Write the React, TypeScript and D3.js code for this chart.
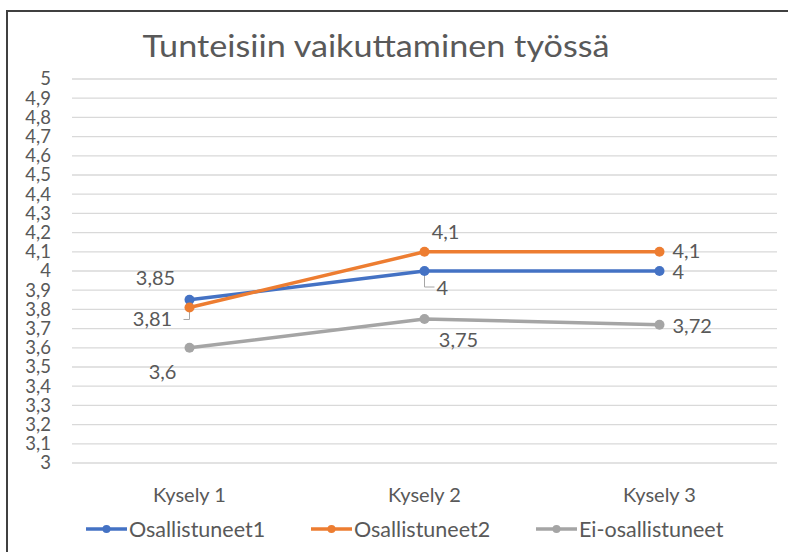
import React from "react";
import * as d3 from "d3";

const title = "Tunteisiin vaikuttaminen työssä";
const categories = ["Kysely 1", "Kysely 2", "Kysely 3"];
const seriesNames = ["Osallistuneet1", "Osallistuneet2", "Ei-osallistuneet"];
const osallistuneet1 = [3.85, 4, 4];
const osallistuneet2 = [3.81, 4.1, 4.1];
const eiOsallistuneet = [3.6, 3.75, 3.72];
const yTicks = d3.range(0, 21).map((i) => +(3 + i * 0.1).toFixed(1));
const colors = ["#4472C4", "#ED7D31", "#A5A5A5"];

const W = 788;
const H = 552;
const FONT = "Lato, 'Open Sans', sans-serif";
const fmt = (v: number) => String(v).replace(".", ",");

export default function App() {
  const x = d3.scaleBand<string>().domain(categories).range([72, 777]);
  const y = d3.scaleLinear().domain([3, 5]).range([463, 79]);
  const cx = (c: string) => (x(c) ?? 0) + x.bandwidth() / 2;
  const all = [osallistuneet1, osallistuneet2, eiOsallistuneet];
  const line = d3
    .line<number>()
    .x((_, i) => cx(categories[i]))
    .y((d) => y(d));

  // label offsets per series per point [dx, dy, anchor]
  const labelPos: [number, number, string][][] = [
    [[-34, -22, "middle"], [12, 17, "start"], [13, 1, "start"]],
    [[-37, 12, "middle"], [21, -20, "middle"], [13, -1, "start"]],
    [[-27, 24, "middle"], [34, 21, "middle"], [13, 1, "start"]],
  ];

  const legendX = [86, 311, 536];

  return (
    <svg
      width={W}
      height={H}
      style={{ position: "absolute", left: 0, top: 0, background: "#fff" }}
      fontFamily={FONT}
    >
      <rect x={7} y={11} width={W} height={H} fill="#fff" stroke="#404040" strokeWidth={2} />
      <text x={376} y={57} textAnchor="middle" fontSize={31} fill="#595959" textLength={467} lengthAdjust="spacingAndGlyphs">
        {title}
      </text>
      {yTicks.map((t) => (
        <g key={t}>
          <line x1={72} x2={777} y1={y(t)} y2={y(t)} stroke="#d9d9d9" strokeWidth={1.3} />
          <text x={51} y={y(t)} dy="0.35em" textAnchor="end" fontSize={18.5} fill="#595959">
            {fmt(t)}
          </text>
        </g>
      ))}
      {categories.map((c) => (
        <text key={c} x={cx(c)} y={502} textAnchor="middle" fontSize={20} fill="#595959">
          {c}
        </text>
      ))}
      {/* leader lines */}
      <path
        d={`M${cx(categories[0]) - 6},${y(osallistuneet2[0]) + 12} H${cx(categories[0])} V${y(osallistuneet2[0]) + 4}`}
        fill="none"
        stroke="#a6a6a6"
        strokeWidth={1}
      />
      <path
        d={`M${cx(categories[1])},${y(osallistuneet1[1]) + 4} V${y(osallistuneet1[1]) + 16} H${cx(categories[1]) + 10}`}
        fill="none"
        stroke="#a6a6a6"
        strokeWidth={1}
      />
      {all.map((s, si) => (
        <g key={si}>
          <path d={line(s) ?? ""} fill="none" stroke={colors[si]} strokeWidth={3.5} strokeLinejoin="round" />
          {s.map((v, i) => (
            <circle key={i} cx={cx(categories[i])} cy={y(v)} r={5} fill={colors[si]} />
          ))}
        </g>
      ))}
      {all.map((s, si) =>
        s.map((v, i) => {
          const [dx, dy, anchor] = labelPos[si][i];
          return (
            <text
              key={`${si}-${i}`}
              x={cx(categories[i]) + dx}
              y={y(v) + dy}
              dy="0.35em"
              textAnchor={anchor as any}
              fontSize={20}
              fill="#595959"
            >
              {fmt(v)}
            </text>
          );
        })
      )}
      {seriesNames.map((n, i) => (
        <g key={n}>
          <line x1={legendX[i]} x2={legendX[i] + 41} y1={529} y2={529} stroke={colors[i]} strokeWidth={3.5} />
          <circle cx={legendX[i] + 20.5} cy={529} r={4} fill={colors[i]} />
          <text x={legendX[i] + 43} y={529} dy="0.35em" fontSize={21.5} fill="#595959">
            {n}
          </text>
        </g>
      ))}
    </svg>
  );
}
